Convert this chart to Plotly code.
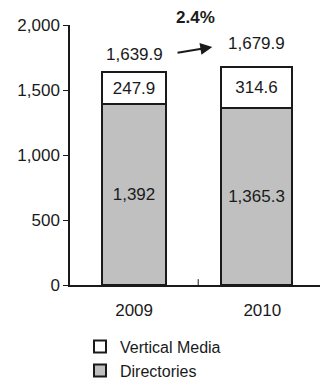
import plotly.graph_objects as go

years = ["2009", "2010"]
directories = [1392, 1365.3]
vertical_media = [247.9, 314.6]
totals = [1639.9, 1679.9]
dir_labels = ["1,392", "1,365.3"]
vm_labels = ["247.9", "314.6"]
total_labels = ["1,639.9", "1,679.9"]
growth_label = "2.4%"

FONT = "Liberation Sans"
FS = 17
INK = "#1a1a1a"
xs = [0, 1]
widths = [0.5, 0.555]
offsets = [-0.25, -0.32]

fig = go.Figure()
fig.add_trace(go.Bar(
    x=xs, y=directories, name="Directories", width=widths, offset=offsets,
    marker=dict(color="#c0c0c0", line=dict(color=INK, width=2)),
    text=dir_labels, textposition="inside", insidetextanchor="middle",
    textfont=dict(family=FONT, size=FS, color=INK), textangle=0,
))
fig.add_trace(go.Bar(
    x=xs, y=vertical_media, name="Vertical Media", width=widths, offset=offsets,
    marker=dict(color="white", line=dict(color=INK, width=2)),
    text=vm_labels, textposition="inside", insidetextanchor="middle",
    textfont=dict(family=FONT, size=FS, color=INK), textangle=0,
))

centers = [xs[i] + offsets[i] + widths[i] / 2 for i in range(2)]
shifts = [17, 23]
for i in range(2):
    fig.add_annotation(x=centers[i], y=totals[i], text=total_labels[i], showarrow=False,
                       yanchor="middle", yshift=shifts[i],
                       font=dict(family=FONT, size=FS, color=INK))

fig.add_annotation(x=0.61, y=1831, ax=0.327, ay=1785, xref="x", yref="y", axref="x", ayref="y",
                   text="", showarrow=True, arrowhead=2, arrowsize=1.2, arrowwidth=2, arrowcolor=INK)
fig.add_annotation(x=0.475, y=1.027, xref="x", yref="paper", text="<b>" + growth_label + "</b>",
                   showarrow=False, yanchor="middle",
                   font=dict(family=FONT, size=FS, color=INK))

fig.update_layout(
    barmode="stack", width=320, height=381,
    margin=dict(l=70, r=0, t=25, b=96, autoexpand=False),
    plot_bgcolor="white", paper_bgcolor="white",
    showlegend=True,
    legend=dict(x=0.04, y=-0.172, xanchor="left", yanchor="top", traceorder="reversed",
                font=dict(family=FONT, size=16, color=INK), itemwidth=30,
                tracegroupgap=0),
    bargap=0,
)
fig.update_xaxes(
    range=[-0.5, 1.45], tickmode="array", tickvals=xs, ticktext=years,
    showline=True, linecolor=INK, linewidth=1.5,
    ticks="", showgrid=False, zeroline=False, ticklabelstandoff=9,
    tickfont=dict(family=FONT, size=FS, color=INK),
)
fig.add_shape(type="line", x0=0.5, x1=0.5, y0=0, y1=45, xref="x", yref="y",
              line=dict(color=INK, width=1))
fig.update_yaxes(
    range=[0, 2000], tickvals=[0, 500, 1000, 1500, 2000],
    ticktext=["0", "500", "1,000", "1,500", "2,000"],
    showline=True, linecolor=INK, linewidth=1.5,
    ticks="outside", ticklen=5, tickcolor=INK,
    showgrid=False, zeroline=False,
    tickfont=dict(family=FONT, size=FS, color=INK),
)
fig.write_html("out.html")
